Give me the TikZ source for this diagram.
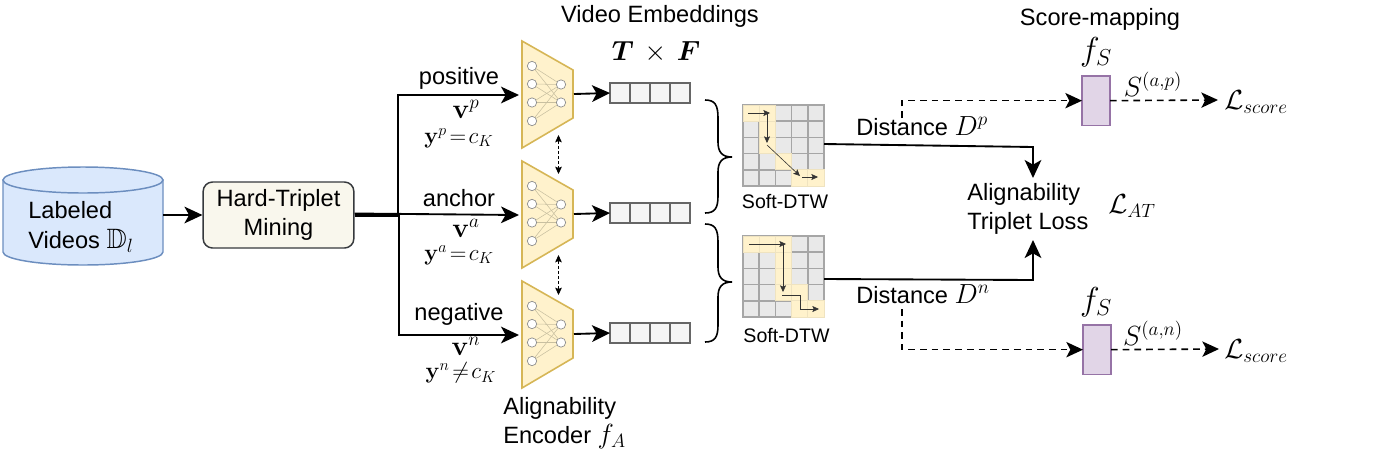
\documentclass[tikz,border=0pt]{standalone}
\usepackage{amsmath,amssymb,amsfonts,bm}
\usepackage[no-math]{fontspec}
\setmainfont{Liberation Sans}
\usetikzlibrary{arrows.meta,positioning,calc}
\definecolor{encfill}{HTML}{FFF2CC}
\definecolor{encline}{HTML}{D6B656}
\definecolor{cylfill}{HTML}{DAE8FC}
\definecolor{cylline}{HTML}{6C8EBF}
\definecolor{minefill}{HTML}{F9F7ED}
\definecolor{mineline}{HTML}{36393D}
\definecolor{cellfill}{HTML}{F5F5F5}
\definecolor{cellline}{HTML}{666666}
\definecolor{gridfill}{HTML}{E9E9E9}
\definecolor{gridline}{HTML}{A6A6A6}
\definecolor{hline}{HTML}{EFE3C0}
\definecolor{scfill}{HTML}{E1D5E7}
\definecolor{scline}{HTML}{9673A6}
\definecolor{linkcol}{HTML}{C8BFA0}
\newcommand{\lgmath}[1]{{\fontsize{21}{21}\selectfont #1}}
\tikzset{
  flow/.style={line width=1.4pt,-{Stealth[length=13.5pt,width=12.5pt,inset=3.5pt]}},
  dashflow/.style={line width=1.2pt,dash pattern=on 5pt off 3.8pt,-{Stealth[length=12.5pt,width=11.5pt,inset=3pt]}},
  smalldash/.style={line width=0.7pt,dash pattern=on 2.2pt off 1.6pt,{Stealth[length=5.5pt,width=5pt,inset=1pt]}-{Stealth[length=5.5pt,width=5pt,inset=1pt]}},
  neuron/.style={circle,draw=black!45,fill=white,line width=0.5pt,minimum size=7pt,inner sep=0pt},
  link/.style={draw=linkcol,line width=0.4pt},
  cell/.style={draw=cellline,fill=cellfill,line width=1.2pt,minimum width=15pt,minimum height=15pt,inner sep=0pt,outer sep=0pt,anchor=north west},
  gcell/.style={draw=gridline,fill=gridfill,line width=1.1pt},
  hcell/.style={draw=hline,fill=encfill,line width=0.5pt},
  garrow/.style={line width=0.45pt,draw=black!80,-{Stealth[length=5pt,width=4.5pt,inset=1pt]}},
  brace/.style={line width=1.2pt},
  score/.style={draw=scline,fill=scfill,line width=1.1pt,minimum width=21pt,minimum height=37pt,inner sep=0pt,outer sep=0pt,anchor=north west},
  lab/.style={font=\fontsize{17.7}{20}\selectfont,inner sep=0pt,align=center},
  smlab/.style={font=\fontsize{14.7}{16}\selectfont,inner sep=0pt},
  mlab/.style={font=\fontsize{20}{22}\selectfont,inner sep=0pt},
  mmlab/.style={font=\fontsize{16.5}{18}\selectfont,inner sep=0pt},
  blab/.style={font=\fontsize{23.5}{24}\selectfont,inner sep=0pt},
  llab/.style={font=\fontsize{20.5}{22}\selectfont,inner sep=0pt},
}
\begin{document}
\begin{tikzpicture}[x=0.75pt,y=-0.75pt]
\useasboundingbox (0,0) rectangle (1378,472);
% cylinder
\path[draw=cylline,fill=cylfill,line width=1.1pt] (3,180) -- (3,252) arc[start angle=180,end angle=360,x radius=80,y radius=-13] -- (163,180) -- cycle;
\path[draw=cylline,line width=1.1pt,fill=cylfill] (83,180) ellipse[x radius=80,y radius=13];
\node[lab,align=left,anchor=west] (labeled) at (28,227) {Labeled\\[3pt]Videos \lgmath{$\mathbb{D}_l$}};
\coordinate (cylout) at (163,215);
% mining
\node[draw=mineline,fill=minefill,rounded corners=7pt,line width=1.1pt,minimum width=113pt,minimum height=49.5pt,inner sep=0pt] (mine) at (278.5,215) {};
\node[lab] (minetxt) at (278.5,215) {Hard-Triplet\\[2pt]Mining};
\draw[flow] (cylout) -- (mine.west);
% encoders
\foreach \n/\dy in {p/0,a/120,n/240}{
 \begin{scope}[yshift=-0.75pt*\dy]
  \path[draw=encline,fill=encfill,line width=1.2pt] (522,41) -- (573,70) -- (573,118) -- (522,148) -- cycle;
  \coordinate (enc\n in) at (519,95);
  \coordinate (enc\n out) at (574,94);
  \foreach \i/\yy in {1/66,2/84,3/102.5,4/121}{\node[neuron] (l\n\i) at (532,\yy) {};}
  \foreach \j/\yy in {1/84.5,2/102.5}{\node[neuron] (r\n\j) at (561,\yy) {};}
  \foreach \i in {1,2,3,4}{\foreach \j in {1,2}{\draw[link] (l\n\i) -- (r\n\j);}}
  \foreach \k in {0,1,2,3}{\node[cell] (c\n\k) at (610+20*\k,83) {};}
  \draw[flow] (enc\n out) -- (c\n0.west);
 \end{scope}
}
% input split
\coordinate (split) at (398,215);
\draw[flow] (mine.east) -- (split) |- (encpin);
\draw[flow] ($(mine.east)+(0,-1.5)$) -- (encain);
\draw[flow] ($(mine.east)+(0,1)$) -- (399,216) |- (encnin);
% between encoders
\coordinate (d1a) at (558.5,135); \coordinate (d1b) at (558.5,174);
\coordinate (d2a) at (558.5,255); \coordinate (d2b) at (558.5,295);
\draw[smalldash] (d1a) -- (d1b);
\draw[smalldash] (d2a) -- (d2b);
% labels
\node[lab] (tvid) at (660,16) {Video Embeddings};
\node[font=\fontsize{20}{22}\selectfont,inner sep=0pt] (tf) at (656,52) {$\bm{T}\,\times\,\bm{F}$};
\node[lab] (lpos) at (459,78) {positive};
\node[lab] (lanc) at (459,198) {anchor};
\node[lab] (lneg) at (459,314) {negative};
\node[mlab] (vp) at (466,109) {$\mathbf{v}^{p}$};
\node[mlab] (va) at (466,228) {$\mathbf{v}^{a}$};
\node[mlab] (vn) at (466,346) {$\mathbf{v}^{n}$};
\node[mmlab] (yp) at (459,138) {$\mathbf{y}^{p}\!=\!c_K$};
\node[mmlab] (ya) at (459,255) {$\mathbf{y}^{a}\!=\!c_K$};
\node[mmlab] (yn) at (461,373) {$\mathbf{y}^{n}\!\neq\! c_K$};
\node[lab,align=left,anchor=west] (encl) at (503,423) {Alignability\\[2pt]Encoder \lgmath{$f_A$}};
% braces
\draw[brace] (705,100) .. controls (715,100) and (718,105) .. (718,118) -- (718,142) .. controls (718,152) and (722,157) .. (732,157) .. controls (722,157) and (718,162) .. (718,172) -- (718,196) .. controls (718,208) and (715,213) .. (705,213);
\draw[brace] (705,224) .. controls (715,224) and (718,229) .. (718,242) -- (718,267) .. controls (718,277) and (722,282) .. (732,282) .. controls (722,282) and (718,287) .. (718,297) -- (718,325) .. controls (718,337) and (715,342) .. (705,342);
% grids
\foreach \g/\yo/\hl in {A/105/{0/0,1/0,1/1,1/2,2/3,3/4,4/4},B/236/{0/0,1/0,2/0,2/1,2/2,2/3,3/3,3/4,4/4}}{
 \foreach \rr in {0,...,4}{\foreach \cc in {0,...,4}{
   \path[gcell] (743+16.2*\cc,\yo+16.2*\rr) rectangle +(16.2,16.2);
 }}
 \foreach \cc/\rr in \hl {\path[hcell] (743+16.2*\cc,\yo+16.2*\rr) rectangle +(16.2,16.2);}
}
\coordinate (gaE) at (824,144); \coordinate (gbE) at (824,279);
% path arrows in grids
\coordinate (a1) at (748,113); \coordinate (a2) at (770,113); \coordinate (a3) at (767,113); \coordinate (a4) at (767,143);
\coordinate (a5) at (767,145); \coordinate (a6) at (800,176); \coordinate (a7) at (802,177); \coordinate (a8) at (818,177);
\draw[garrow] (a1) -- (a2); \draw[garrow] (a3) -- (a4); \draw[garrow] (a5) -- (a6); \draw[garrow] (a7) -- (a8);
\coordinate (b1) at (749,244); \coordinate (b2) at (786,244); \coordinate (b3) at (783,244); \coordinate (b4) at (783,292);
\coordinate (b5) at (782,295); \coordinate (b6) at (800,295); \coordinate (b7) at (800,309); \coordinate (b8) at (819,309);
\draw[garrow] (b1) -- (b2); \draw[garrow] (b3) -- (b4); \draw[garrow] (b5) -- (b6) -- (b7) -- (b8);
\node[smlab] (sd1) at (785,201.5) {Soft-DTW};
\node[smlab] (sd2) at (786.5,335) {Soft-DTW};
% loss
\node[lab,align=left,anchor=west] (loss) at (967,209) {Alignability\\[2pt]Triplet Loss};
\node[font=\fontsize{22}{24}\selectfont,inner sep=0pt] (lat) at (1132,206) {$\mathcal{L}_{AT}$};
\coordinate (lossT) at (1033,178); \coordinate (lossB) at (1033,240);
\coordinate (kT) at (1033,147); \coordinate (kB) at (1033,280);
\draw[flow] (gaE) -- (kT) -- (lossT);
\draw[flow] (gbE) -- (kB) -- (lossB);
\node[lab,anchor=west] (dp) at (856,126.5) {Distance \lgmath{$D^{p}$}};
\node[lab,anchor=west] (dn) at (856,294.5) {Distance \lgmath{$D^{n}$}};
% score mapping
\node[score] (sp) at (1082,76) {};
\node[score] (sn) at (1083,325) {};
\coordinate (dps) at (902,118); \coordinate (dns) at (902,309);
\draw[dashflow] (dps) |- (sp.west);
\draw[dashflow] (dns) |- (sn.west);
\node[lab] (smap) at (1100,19) {Score-mapping};
\node[blab] (fs1) at (1096,52) {$f_S$};
\node[blab] (fs2) at (1096,302) {$f_S$};
\node[llab] (lsp) at (1256,102) {$\mathcal{L}_{score}$};
\node[llab] (lsn) at (1256,351) {$\mathcal{L}_{score}$};
\node[mlab] (sap) at (1153,84) {$S^{(a,p)}$};
\node[mlab] (san) at (1153,333) {$S^{(a,n)}$};
\coordinate (lspin) at (1218,100); \coordinate (lsnin) at (1219,349);
\draw[dashflow] (sp.east) -- (lspin);
\draw[dashflow] (sn.east) -- (lsnin);
\end{tikzpicture}
\end{document}
